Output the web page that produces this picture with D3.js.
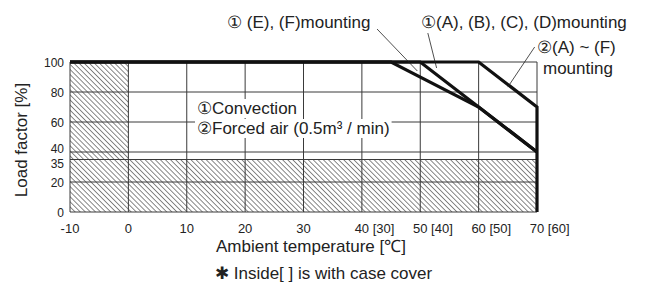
<!DOCTYPE html>
<html>
<head>
<meta charset="utf-8">
<script src="https://cdn.jsdelivr.net/npm/d3@7"></script>
<style>
  body { margin: 0; background: #fff; }
  text { font-family: "Liberation Sans", Arial, sans-serif; fill: #222; }
</style>
</head>
<body>
<script>
// data
var tempTicks = [-10, 0, 10, 20, 30, 40, 50, 60, 70],
    tempCase = ["", "", "", "", "", "[30]", "[40]", "[50]", "[60]"],
    loadTicks = [0, 20, 35, 40, 60, 80, 100],
    efTemp = [-10, 45, 60, 70],
    efLoad = [100, 100, 70, 40],
    adTemp = [-10, 50, 60, 70],
    adLoad = [100, 100, 70, 40],
    airTemp = [-10, 60, 70, 70],
    airLoad = [100, 100, 70, 0],
    // hatched (not usable) zones: [t0, t1, l0, l1]
    hatchZones = [[-10, 0, 0, 100], [0, 70, 0, 35]];

var width = 648, height = 292,
    svg = d3.select("body").append("svg").attr("width", width).attr("height", height),
    x = d3.scaleLinear().domain([-10, 70]).range([70, 537]),
    y = d3.scaleLinear().domain([0, 100]).range([212, 62]);

// hatch pattern
svg.append("defs").append("pattern")
   .attr("id", "hatch").attr("patternUnits", "userSpaceOnUse")
   .attr("width", 3.6).attr("height", 10)
   .attr("patternTransform", "rotate(-45)")
   .append("line").attr("x1", 0).attr("y1", 0).attr("x2", 0).attr("y2", 10)
   .attr("stroke", "#111").attr("stroke-width", 1);

svg.selectAll("rect.hatch").data(hatchZones).enter().append("rect")
   .attr("class", "hatch")
   .attr("x", function(d){ return x(d[0]); })
   .attr("y", function(d){ return y(d[3]); })
   .attr("width", function(d){ return x(d[1]) - x(d[0]); })
   .attr("height", function(d){ return y(d[2]) - y(d[3]); })
   .attr("fill", "url(#hatch)");

// grid
var grid = svg.append("g").attr("stroke", "#3a3a3a").attr("stroke-width", 1);
grid.selectAll("line.v").data(tempTicks).enter().append("line")
    .attr("x1", function(d){ return x(d); }).attr("x2", function(d){ return x(d); })
    .attr("y1", y(0)).attr("y2", y(100));
grid.selectAll("line.h").data(loadTicks).enter().append("line")
    .attr("x1", x(-10)).attr("x2", x(70))
    .attr("y1", function(d){ return y(d); }).attr("y2", function(d){ return y(d); });

// legend text with white backing that hides the grid
var legend = ["\u2460Convection", "\u2461Forced air (0.5m\u00b3 / min)"];
var lg = svg.append("g");
lg.selectAll("text").data(legend).enter().append("text")
  .attr("x", 197).attr("y", function(d, i){ return 114 + i * 20; })
  .style("font-size", "17px")
  .text(function(d){ return d; })
  .each(function(d, i){
    var b = this.getBBox();
    lg.insert("rect", "text").attr("x", b.x - 2).attr("y", b.y)
      .attr("width", b.width + 4).attr("height", b.height).attr("fill", "#fff");
  });

// curves
var line = d3.line().x(function(d){ return x(d[0]); }).y(function(d){ return y(d[1]); });
[[efTemp, efLoad], [adTemp, adLoad], [airTemp, airLoad]].forEach(function(s){
  svg.append("path").datum(d3.zip(s[0], s[1]))
     .attr("d", line).attr("fill", "none")
     .attr("stroke", "#111").attr("stroke-width", 3.2)
     .attr("stroke-linejoin", "miter");
});

// leaders + labels
var leaders = [[42.6, 122, 49.5, 94], [51.3, 119.3, 52.8, 96], [69.6, 110, 65, 83.3]];
svg.selectAll("line.lead").data(leaders).enter().append("line")
   .attr("x1", function(d){ return x(d[0]); }).attr("y1", function(d){ return y(d[1]); })
   .attr("x2", function(d){ return x(d[2]); }).attr("y2", function(d){ return y(d[3]); })
   .attr("stroke", "#222").attr("stroke-width", 0.8);

var notes = [["\u2460 (E), (F)mounting", 227, 28], ["\u2460(A), (B), (C), (D)mounting", 421, 28],
             ["\u2461(A) ~ (F)", 537, 53], ["mounting", 543, 74]];
svg.selectAll("text.note").data(notes).enter().append("text")
   .attr("x", function(d){ return d[1]; }).attr("y", function(d){ return d[2]; })
   .style("font-size", "17px").text(function(d){ return d[0]; });

// axes labels (40 and 35 sit close, nudge them apart)
svg.selectAll("text.yt").data(loadTicks).enter().append("text")
   .attr("x", x(-10) - 6)
   .attr("y", function(d){ return y(d) + (d == 40 ? 0.5 : d == 35 ? 8.5 : 4.5); })
   .attr("text-anchor", "end").style("font-size", "12px")
   .text(function(d){ return d; });

var xt = svg.selectAll("text.xt").data(tempTicks).enter().append("text")
   .attr("y", y(0) + 21).style("font-size", "13px")
   .text(function(d){ return d; });
xt.each(function(d, i){
  var t = d3.select(this), w = this.getComputedTextLength();
  t.attr("x", x(d) - w / 2);
  if (tempCase[i]) t.append("tspan").text(" " + tempCase[i]);
});

svg.append("text").attr("transform", "translate(27,140) rotate(-90)")
   .attr("text-anchor", "middle").style("font-size", "17px").text("Load factor [%]");
svg.append("text").attr("x", 311).attr("y", 252)
   .attr("text-anchor", "middle").style("font-size", "17px").text("Ambient temperature [\u2103]");
svg.append("text").attr("x", 215).attr("y", 279)
   .style("font-size", "17px").text("\u2731 Inside[  ] is with case cover");
</script>
</body>
</html>
